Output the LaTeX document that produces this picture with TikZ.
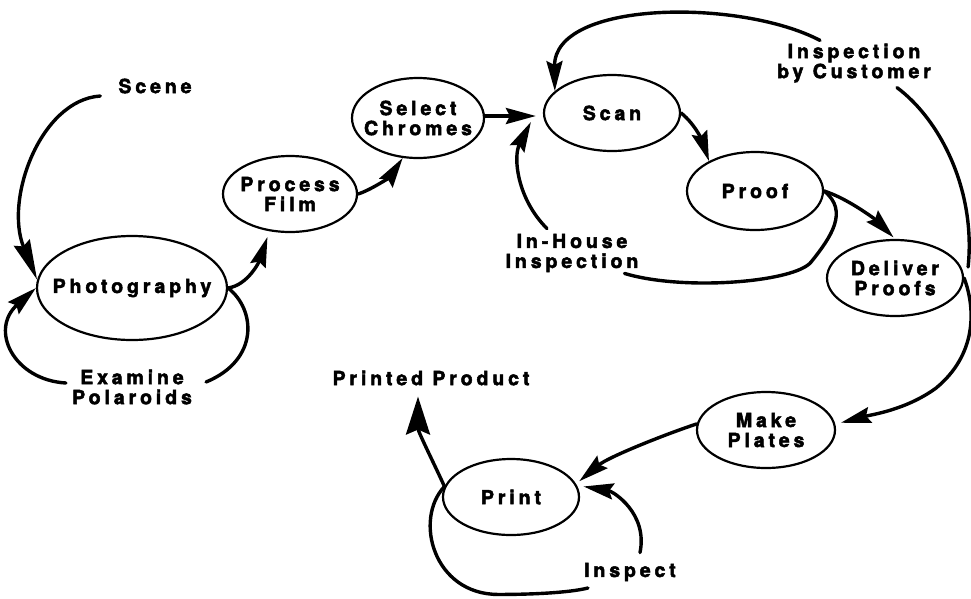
\documentclass[tikz,border=0pt]{standalone}
\usepackage{fontspec}
\newfontfamily\diagfont{texgyreheros-bold.otf}[LetterSpace=20, FakeBold=2.5]
\newcommand\labfont{\diagfont\fontsize{19.5}{20}\selectfont}
\usetikzlibrary{shapes.geometric,arrows.meta,calc}

\tikzset{
  stage/.style={ellipse, draw, line width=2.2pt, inner sep=0pt},
  lbl/.style={inner sep=0pt, font=\labfont, align=center},
  line/.style={line width=3.4pt, line cap=round, line join=round},
  conn/.style={line, -{Stealth[length=30pt,width=16pt,inset=4pt]}},
  bigconn/.style={line, -{Stealth[length=38pt,width=24pt,inset=5pt]}},
  longconn/.style={line, -{Stealth[length=40pt,width=17pt,inset=4pt]}},
}

\begin{document}
\begin{tikzpicture}[x=1pt,y=-1pt]
  \fill[white] (0,0) rectangle (971,598);
  \useasboundingbox (0,0) rectangle (971,598);

  % process stages
  \node[stage, minimum width=190pt, minimum height=104pt,
        label={[lbl]center:Photography}] (photo) at (132,288) {};
  \node[stage, minimum width=134pt, minimum height=76pt,
        label={[lbl]center:{Process\\Film}}] (pfilm) at (290,194) {};
  \node[stage, minimum width=132pt, minimum height=80pt,
        label={[lbl]center:{Select\\Chromes}}] (sel) at (418,118) {};
  \node[stage, minimum width=136pt, minimum height=76pt,
        label={[lbl]center:Scan}] (scan) at (612,113) {};
  \node[stage, minimum width=136pt, minimum height=78pt,
        label={[lbl]center:Proof}] (proof) at (755,191) {};
  \node[stage, minimum width=136pt, minimum height=76pt,
        label={[lbl]center:{Deliver\\Proofs}}] (deliver) at (895,278) {};
  \node[stage, minimum width=138pt, minimum height=76pt,
        label={[lbl]center:{Make\\Plates}}] (plates) at (766,430) {};
  \node[stage, minimum width=136pt, minimum height=76pt,
        label={[lbl]center:Print}] (print) at (511,497) {};

  % free labels
  \node[lbl] (scene) at (155,86) {Scene};
  \node[lbl] (exam) at (132,387) {Examine\\Polaroids};
  \node[lbl] (inh) at (572,253) {In-House\\Inspection};
  \node[lbl] (cust) at (854,63) {Inspection\\by Customer};
  \node[lbl] (prod) at (431,378) {Printed Product};
  \node[lbl] (insp) at (630,572) {Inspect};

  % scene enters photography
  \draw[longconn] ($(scene.west)+(-18,10)$) .. controls +(-60,4) and +(-33,-80) .. (photo.175);

  % polaroid loop around photography
  \draw[conn] ($(exam.west)+(-6,-4)$) .. controls +(-52,-3) and +(-47,42) .. (photo.west);
  \draw[line] (photo.east) .. controls +(28,22) and +(53,-22) .. ($(exam.east)+(14,-5)$);

  % main chain
  \draw[conn, shorten >=6pt] (photo.east) .. controls +(20,-3) and +(-10,30) .. (pfilm.241);
  \draw[conn] (pfilm.east) .. controls +(15,-5) and +(-12,18) .. (sel.249);
  \draw[conn] ($(sel.east)+(0,-2)$) -- ($(scan.west)+(-7,3)$);
  \draw[conn] (scan.east) .. controls +(15,12) and +(-6,-18) .. (proof.147);
  \draw[conn, shorten >=2pt] (proof.east) .. controls +(25,8) and +(-18,-18) .. (deliver.north);

  % in-house inspection loop
  \draw[line] (proof.east) .. controls +(25,20) and +(20,-25) .. ++(-13,71)
        .. controls +(-16,20) and +(60,18) .. ($(inh.south east)+(-14,1)$);
  \draw[conn] ($(inh.north)+(-25,-5)$) .. controls +(-30,-30) and +(-18,35) .. ($(scan.west)+(-12,9)$);

  % customer inspection loop
  \draw[line] ($(deliver.east)+(4,-11)$) .. controls +(8,-77) and +(43,32) .. ($(cust.south)+(43,5)$);
  \draw[conn] ($(cust.north)+(-34,-3)$) .. controls +(-80,-42) and +(-1,-91) .. (scan.159);

  % plates and printing
  \draw[conn] (deliver.east) .. controls +(12,32) and +(40,-33) .. ++(-28,110)
        .. controls +(-30,22) and +(30,-8) .. ($(plates.6)+(6,0)$);
  \draw[conn] (plates.175) .. controls +(-25,8) and +(30,-25) .. ($(print.14)+(5,0)$);
  \draw[conn] ($(insp.north)+(10,-10)$) .. controls +(8,-39) and +(30,5) .. ($(print.9)+(6,0)$);
  \draw[bigconn] (print.171) .. controls +(-10,-22) and +(0,35) .. ($(prod.south)+(-13,11)$);
  \draw[line] (print.171) .. controls +(-31,33) and +(-65,0) .. ++(54,108)
        .. controls +(30,0) and +(-20,5) .. ($(insp.west)+(4,16)$);
\end{tikzpicture}
\end{document}
